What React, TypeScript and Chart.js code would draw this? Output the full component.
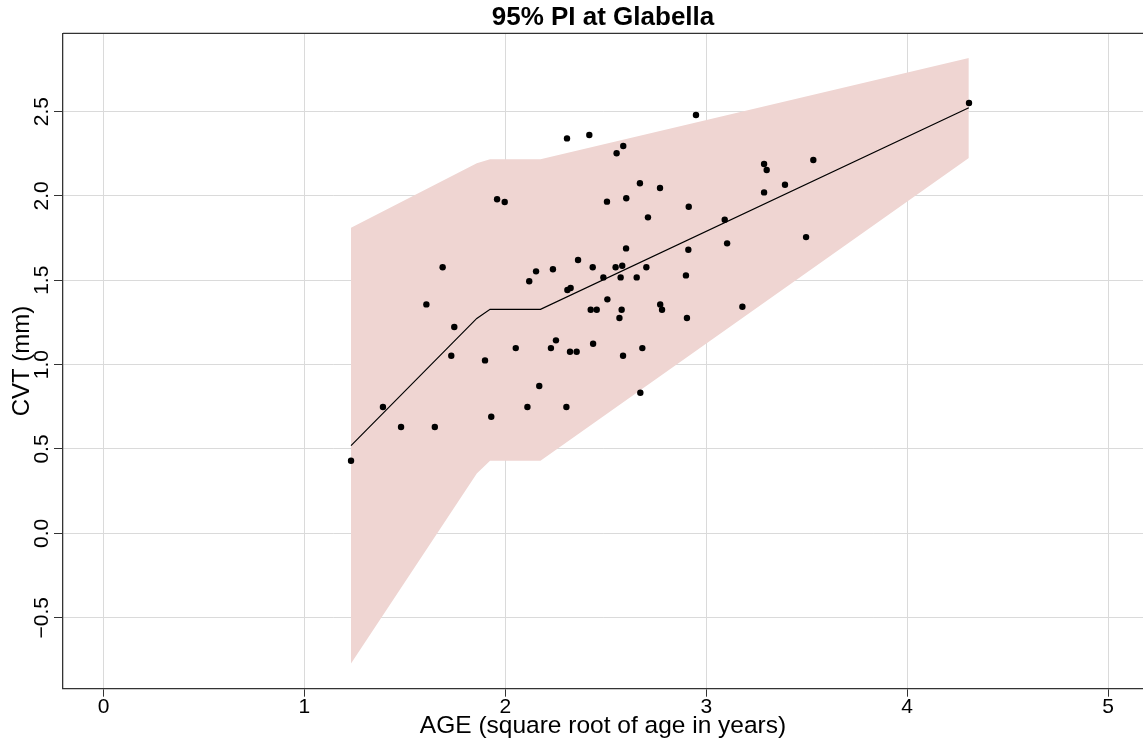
import React, { useEffect, useRef } from "react";
import { Chart, registerables } from "chart.js";

Chart.register(...registerables);

// Observed data (square root of age in years, CVT in mm)
const ageValues = [
  1.232, 1.391, 1.481, 1.607, 1.649, 1.688, 1.731, 1.746, 1.899, 1.93,
  1.959, 1.997, 2.052, 2.11, 2.119, 2.153, 2.169, 2.227, 2.237, 2.252,
  2.304, 2.307, 2.309, 2.325, 2.322, 2.355, 2.362, 2.418, 2.425, 2.435,
  2.437, 2.455, 2.488, 2.506, 2.508, 2.549, 2.554, 2.568, 2.574, 2.579,
  2.582, 2.586, 2.587, 2.601, 2.602, 2.654, 2.67, 2.672, 2.682, 2.702,
  2.71, 2.77, 2.771, 2.78, 2.899, 2.904, 2.911, 2.913, 2.949, 3.092,
  3.104, 3.18, 3.288, 3.301, 3.288, 3.392, 3.497, 3.533, 4.308,
];
const cvtValues = [
  0.43, 0.749, 0.63, 1.357, 0.63, 1.577, 1.053, 1.223, 1.025, 0.691,
  1.98, 1.964, 1.098, 0.749, 1.494, 1.553, 0.873, 1.098, 1.565, 1.144,
  0.749, 2.341, 1.442, 1.454, 1.076, 1.076, 1.62, 2.361, 1.325, 1.577,
  1.124, 1.325, 1.517, 1.966, 1.387, 1.577, 2.253, 1.276, 1.517, 1.325,
  1.586, 1.053, 2.296, 1.689, 1.986, 1.517, 2.075, 0.833, 1.098, 1.577,
  1.873, 2.047, 1.357, 1.325, 1.529, 1.276, 1.681, 1.936, 2.48, 1.859,
  1.719, 1.343, 2.189, 2.154, 2.021, 2.066, 1.756, 2.213, 2.551,
];

// Fitted curve and 95% prediction interval
const fitAge = [1.232, 1.858, 1.924, 2.175, 4.307];
const fitCVT = [0.52, 1.274, 1.328, 1.328, 2.523];
const piUpper = [1.811, 2.193, 2.217, 2.217, 2.817];
const piLower = [-0.771, 0.355, 0.43, 0.43, 2.225];

// Axis ticks
const xTickValues = [0, 1, 2, 3, 4, 5];
const yTickValues = [-0.5, 0, 0.5, 1, 1.5, 2, 2.5];

const FONT = "'Liberation Sans', Arial, Helvetica, sans-serif";

const toXY = (xs: number[], ys: number[]) => xs.map((x, i) => ({ x, y: ys[i] }));

const topBorder = {
  id: "topBorder",
  afterDraw(chart: any) {
    const { ctx, chartArea } = chart;
    ctx.save();
    ctx.strokeStyle = "#333333";
    ctx.lineWidth = 1.3;
    ctx.beginPath();
    ctx.moveTo(chartArea.left, chartArea.top);
    ctx.lineTo(chartArea.right + 10, chartArea.top);
    ctx.stroke();
    ctx.restore();
  },
};

export default function App() {
  const ref = useRef<HTMLCanvasElement>(null);

  useEffect(() => {
    const chart = new Chart(ref.current as HTMLCanvasElement, {
      type: "scatter",
      data: {
        datasets: [
          {
            label: "Observed",
            data: toXY(ageValues, cvtValues),
            backgroundColor: "#000000",
            borderColor: "#000000",
            pointRadius: 3.2,
            borderWidth: 0,
            order: 0,
          },
          {
            label: "Fitted",
            data: toXY(fitAge, fitCVT),
            showLine: true,
            borderColor: "#000000",
            borderWidth: 1.2,
            pointRadius: 0,
            fill: false,
            order: 1,
          },
          {
            label: "95% PI upper",
            data: toXY(fitAge, piUpper),
            showLine: true,
            borderWidth: 0,
            borderColor: "rgba(0,0,0,0)",
            backgroundColor: "#EFD5D2",
            pointRadius: 0,
            fill: "+1",
            order: 2,
          },
          {
            label: "95% PI lower",
            data: toXY(fitAge, piLower),
            showLine: true,
            borderWidth: 0,
            borderColor: "rgba(0,0,0,0)",
            pointRadius: 0,
            fill: false,
            order: 3,
          },
        ],
      },
      options: {
        responsive: false,
        animation: false,
        events: [],
        layout: { padding: 0, autoPadding: false },
        plugins: {
          legend: { display: false },
          tooltip: { enabled: false },
          title: {
            display: true,
            fullSize: false,
            text: "95% PI at Glabella",
            color: "#000000",
            font: { family: FONT, size: 26, weight: "bold", lineHeight: 1.1538 },
            padding: { top: 3.3, bottom: 0 },
          },
        },
        scales: {
          x: {
            type: "linear",
            min: -0.2016,
            max: 5.174,
            afterBuildTicks: (scale: any) => {
              scale.ticks = xTickValues.map((v) => ({ value: v }));
            },
            afterFit: (scale: any) => {
              scale.height = 53.3;
              scale.paddingLeft = 0;
              scale.paddingRight = 0;
            },
            grid: {
              color: "#DADADA",
              lineWidth: 1,
              tickColor: "#333333",
              tickLength: 8,
              tickWidth: 1,
            },
            border: { display: true, color: "#333333", width: 1.3 },
            ticks: {
              color: "#000000",
              font: { family: FONT, size: 21, lineHeight: 1 },
              padding: 0,
              maxRotation: 0,
              callback: (v: any) => String(v),
            },
            title: {
              display: true,
              text: "AGE (square root of age in years)",
              color: "#000000",
              font: { family: FONT, size: 24.5, lineHeight: 1.2 },
              padding: { top: 0, bottom: 1 },
            },
          },
          y: {
            type: "linear",
            min: -0.921,
            max: 2.964,
            afterBuildTicks: (scale: any) => {
              scale.ticks = yTickValues.map((v) => ({ value: v }));
            },
            afterFit: (scale: any) => {
              scale.width = 63;
              scale.paddingTop = 0;
              scale.paddingBottom = 0;
            },
            grid: {
              color: "#DADADA",
              lineWidth: 1,
              tickColor: "#333333",
              tickLength: 9,
              tickWidth: 1,
            },
            border: { display: true, color: "#333333", width: 1.3 },
            ticks: {
              color: "#000000",
              font: { family: FONT, size: 21, lineHeight: 1 },
              minRotation: 90,
              maxRotation: 90,
              crossAlign: "center",
              padding: -9,
              callback: (v: any) => Number(v).toFixed(1).replace("-", "\u2212"),
            },
            title: {
              display: true,
              text: "CVT (mm)",
              color: "#000000",
              font: { family: FONT, size: 24, lineHeight: 1.2 },
              padding: { top: 8, bottom: 0 },
            },
          },
        },
      },
      plugins: [topBorder],
    } as any);
    return () => chart.destroy();
  }, []);

  return (
    <div
      style={{
        position: "fixed",
        left: 0,
        top: 0,
        width: 1143,
        height: 742,
        background: "#ffffff",
      }}
    >
      <canvas ref={ref} width={1143} height={742} style={{ display: "block" }} />
    </div>
  );
}
